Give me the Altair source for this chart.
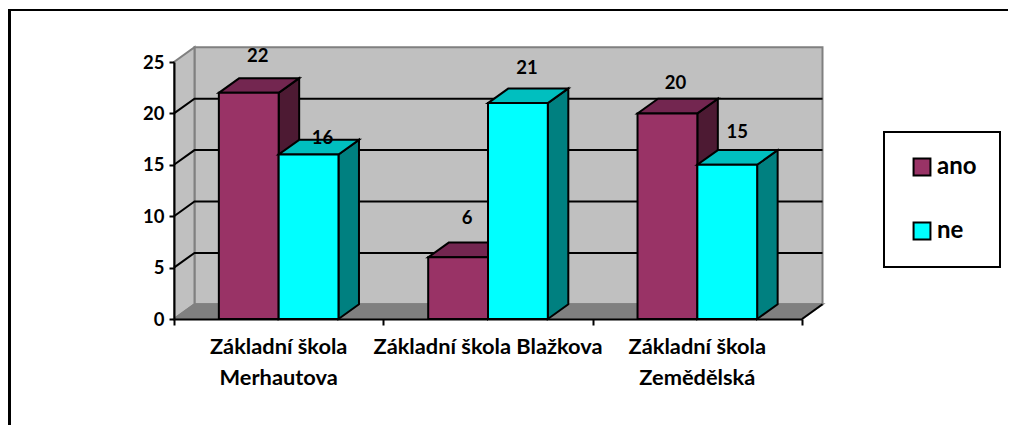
import altair as alt
import pandas as pd

# ---- values ----
categories = ["Základní škola\nMerhautova", "Základní škola Blažkova", "Základní škola\nZemědělská"]
series = ["ano", "ne"]
ano = [22, 6, 20]
ne = [16, 21, 15]
y_ticks = [0, 5, 10, 15, 20, 25]
x_ticks = [0, 1, 2, 3]

# ---- styling / layout ----
FONT = "Lato"
FRONT = {"ano": "#993366", "ne": "#00FFFF"}
TOP = {"ano": "#732650", "ne": "#00BFBF"}
SIDE = {"ano": "#4D1A33", "ne": "#008080"}
PX_X = 628 / 3      # pixels per category
PX_Y = 257 / 25     # pixels per value unit
DX = 20.5 / PX_X    # depth of the 3-D box in x units
DY = 14.7 / PX_Y    # depth of the 3-D box in y units
BAR = 1 / 3.5       # bar width in categories
GAP = 0.75 / 3.5    # margin before the first bar
# hand placement of the data labels (pixels: right, up from the bar top)
NUDGE = {"ano": [(9, 37), (9, 39), (8, 30)], "ne": [(14, 17), (9, 35), (10, 33)]}

X = alt.Scale(domain=[0, 3], nice=False, zero=False)
Y = alt.Scale(domain=[0, 25], nice=False, zero=False)
X_AXIS = alt.Axis(
    values=x_ticks, labels=False, title=None, grid=False, domainColor="black", domainWidth=2,
    tickColor="black", tickWidth=2, tickSize=6, zindex=2,
)
Y_AXIS = alt.Axis(
    values=y_ticks, title=None, grid=False, domainColor="black", domainWidth=2,
    tickColor="black", tickWidth=2, tickSize=5, zindex=2, labelFont=FONT, labelFontWeight="bold",
    labelFontSize=18.5, labelColor="black", labelPadding=5, format="d", labelOverlap=False,
)
x_q = lambda f="x": alt.X(f"{f}:Q", scale=X, axis=X_AXIS)
y_q = lambda f="y": alt.Y(f"{f}:Q", scale=Y, axis=Y_AXIS)
x2 = alt.X2("x2:Q")
y2 = alt.Y2("y2:Q")


def h_face(xa, xb, ya, yb):
    """parallelogram with horizontal edges"""
    return [
        {"y": ya, "x": xa, "x2": xb},
        {"y": yb, "x": xa + DX, "x2": xb + DX},
    ]


def v_face(xa, ya, yb):
    """parallelogram with vertical edges"""
    return [
        {"x": xa, "y": ya, "y2": yb},
        {"x": xa + DX, "y": ya + DY, "y2": yb + DY},
    ]


# walls
back = pd.DataFrame([{"x": DX, "x2": 3 + DX, "y": DY, "y2": 25 + DY}])
wall_layer = alt.Chart(back).mark_rect(fill="#C0C0C0", stroke="#808080", strokeWidth=2).encode(
    x=x_q(), x2=x2, y=y_q(), y2=y2
)
left_wall = alt.Chart(pd.DataFrame(v_face(0, 0, 25))).mark_area(
    orient="vertical", fill="#C0C0C0", stroke="#808080", strokeWidth=2
).encode(x=x_q(), y=y_q(), y2=y2)
floor = alt.Chart(pd.DataFrame(h_face(0, 3, 0, DY))).mark_area(
    orient="horizontal", fill="#808080", stroke="#808080", strokeWidth=2
).encode(y=y_q(), x=x_q(), x2=x2)

# grid lines on the side wall and the back wall
grid_rows = []
for v in y_ticks[1:-1]:
    grid_rows += [
        {"x": 0, "y": v, "g": v, "o": 0},
        {"x": DX, "y": v + DY, "g": v, "o": 1},
        {"x": 3 + DX, "y": v + DY, "g": v, "o": 2},
    ]
grid = alt.Chart(pd.DataFrame(grid_rows)).mark_line(color="black", strokeWidth=2).encode(
    x=x_q(), y=y_q(), detail="g:N", order="o:Q"
)
edge = alt.Chart(pd.DataFrame([{"x": 3, "y": 0}, {"x": 3 + DX, "y": DY}])).mark_line(
    color="black", strokeWidth=2
).encode(x=x_q(), y=y_q())

layers = [wall_layer, left_wall, floor, grid, edge]

# bars
values = {"ano": ano, "ne": ne}
color = alt.Color(
    "serie:N",
    scale=alt.Scale(domain=series, range=[FRONT[s] for s in series]),
    legend=alt.Legend(
        orient="none", legendX=710, legendY=70, title=None, symbolType="square", symbolSize=285,
        symbolStrokeColor="black", symbolStrokeWidth=2, symbolOpacity=1, labelFont=FONT, labelFontWeight="bold",
        labelFontSize=24, labelColor="black", padding=23, rowPadding=38, labelOffset=3, symbolOffset=3,
        strokeColor="black", fillColor="white",
    ),
)
label_rows = []
for si, s in enumerate(series):
    side_rows, top_rows, front_rows = [], [], []
    for i, v in enumerate(values[s]):
        left = i + GAP + si * BAR
        right = left + BAR
        for r in v_face(right, 0, v):
            side_rows.append({**r, "b": i})
        for r in h_face(left, right, v, v + DY):
            top_rows.append({**r, "b": i})
        front_rows.append({"x": left, "x2": right, "y": 0, "y2": v, "serie": s})
        nx, ny = NUDGE[s][i]
        label_rows.append({"x": (left + right) / 2 + nx / PX_X, "y": v + ny / PX_Y, "t": str(v)})
    layers.append(alt.Chart(pd.DataFrame(side_rows)).mark_area(
        orient="vertical", fill=SIDE[s], stroke="black", strokeWidth=2
    ).encode(x=x_q(), y=y_q(), y2=y2, detail="b:N"))
    layers.append(alt.Chart(pd.DataFrame(top_rows)).mark_area(
        orient="horizontal", fill=TOP[s], stroke="black", strokeWidth=2
    ).encode(y=y_q(), x=x_q(), x2=x2, detail="b:N"))
    layers.append(alt.Chart(pd.DataFrame(front_rows)).mark_rect(stroke="black", strokeWidth=2).encode(
        x=x_q(), x2=x2, y=y_q(), y2=y2, color=color
    ))

# data labels
layers.append(alt.Chart(pd.DataFrame(label_rows)).mark_text(
    font=FONT, fontWeight="bold", fontSize=18.5, color="black", baseline="middle", align="center"
).encode(x=x_q(), y=y_q(), text="t:N"))

# category labels
cat_df = pd.DataFrame({"x": [i + 0.5 for i in range(3)], "y": [0] * 3, "t": categories})
layers.append(alt.Chart(cat_df).mark_text(
    font=FONT, fontWeight="bold", fontSize=21.8, color="black", baseline="top", align="center",
    lineBreak="\n", lineHeight=31, dy=18
).encode(x=x_q(), y=y_q(), text="t:N"))

# outer frame of the chart (runs off the picture)
layers.append(alt.Chart(pd.DataFrame([{"a": 1}])).mark_rule(color="black", strokeWidth=2).encode(
    x=alt.value(-165), x2=alt.value(842), y=alt.value(-52)
))
layers.append(alt.Chart(pd.DataFrame([{"a": 1}])).mark_rule(color="black", strokeWidth=3).encode(
    x=alt.value(-164.5), y=alt.value(-53), y2=alt.value(363)
))

chart = alt.layer(*layers).properties(
    width=628, height=257,
    padding={"left": 166, "top": 54, "right": 206, "bottom": 106},
    autosize=alt.AutoSizeParams(type="none"),
).configure_view(stroke=None).configure_legend(strokeWidth=2)

chart.save("out.html", embed_options={"renderer": "svg", "actions": False})
